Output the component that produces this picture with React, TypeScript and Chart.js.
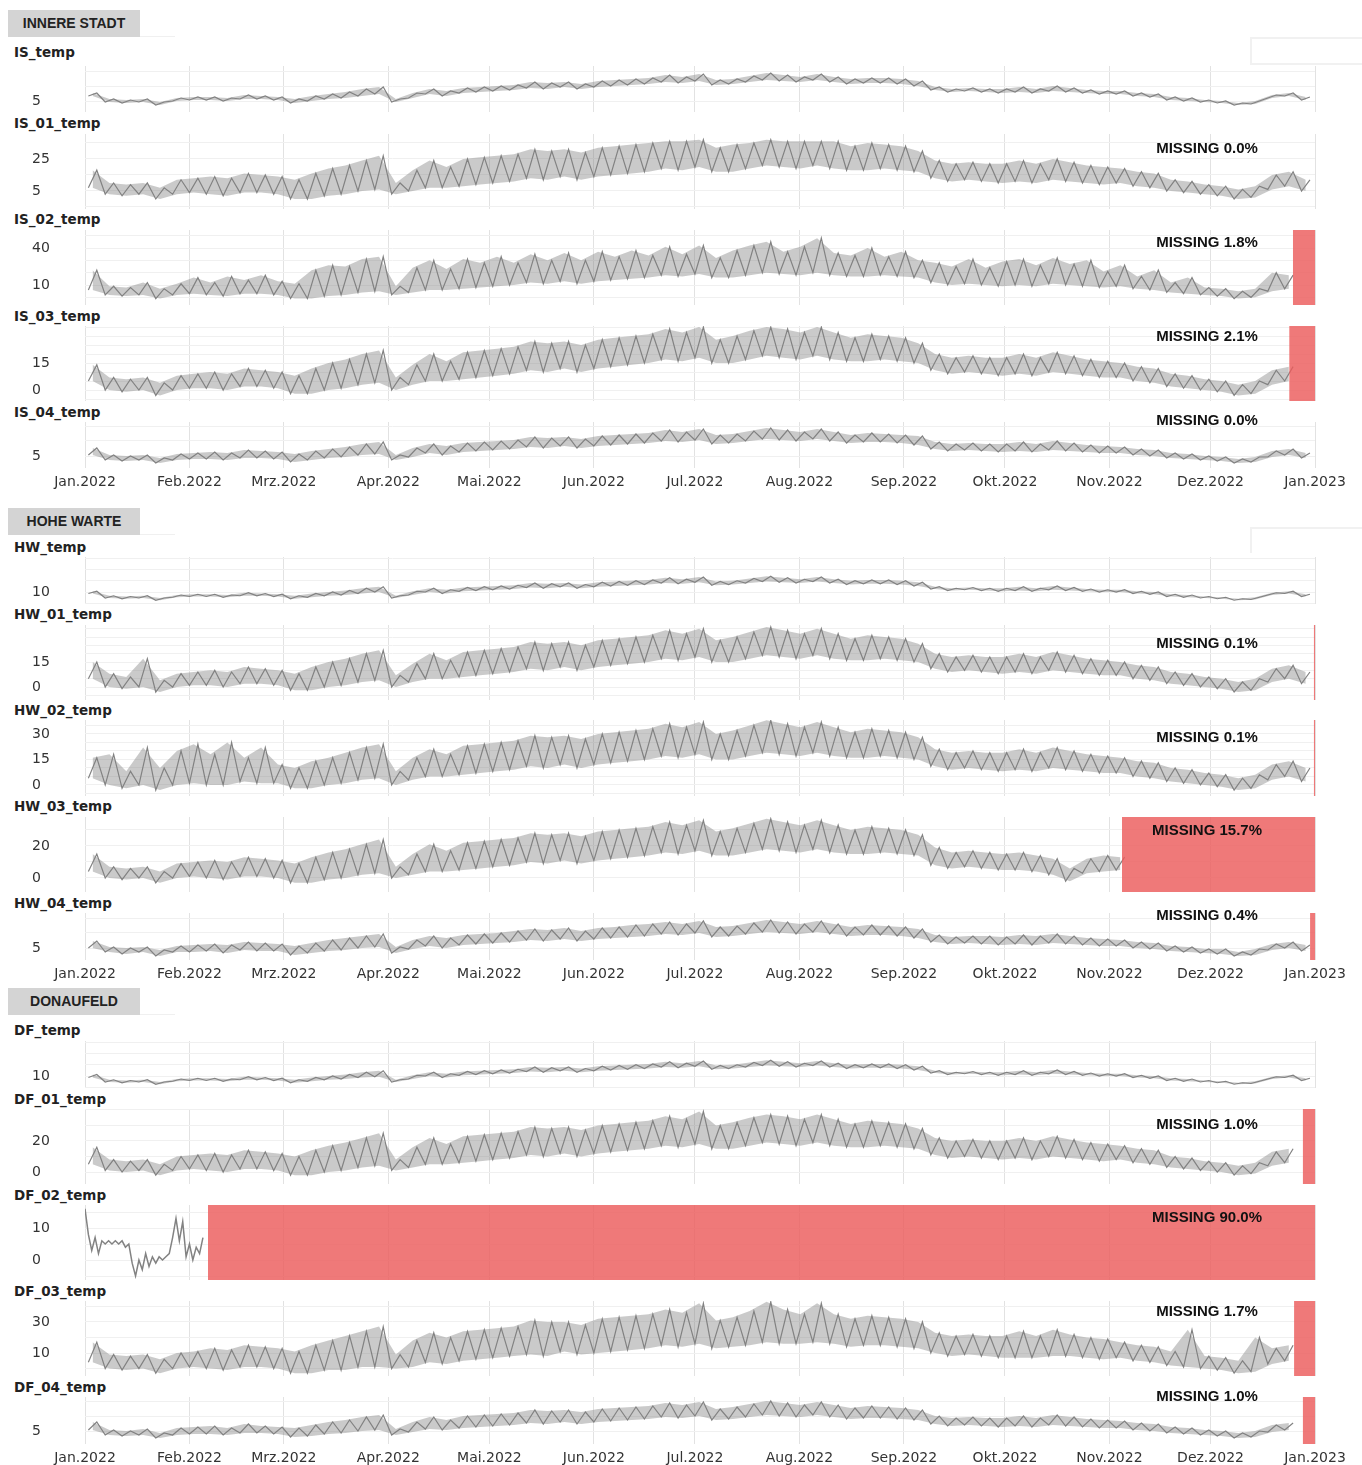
import React, { useEffect, useRef } from 'react';
import { Chart, registerables } from 'chart.js';

Chart.register(...registerables);
Chart.defaults.font.family = "'DejaVu Sans', Verdana, sans-serif";

// ---- time axis -------------------------------------------------------------
const MONTH_START_DAYS = [0, 31, 59, 90, 120, 151, 181, 212, 243, 273, 304, 334, 365];
const MONTH_LABELS = [
  'Jan.2022', 'Feb.2022', 'Mrz.2022', 'Apr.2022', 'Mai.2022', 'Jun.2022', 'Jul.2022',
  'Aug.2022', 'Sep.2022', 'Okt.2022', 'Nov.2022', 'Dez.2022', 'Jan.2023',
];
const YEAR_DAYS = 365;
// each series is stored as five-day readings: the low of the period and its high
const BIN_DAYS = 5;

// ---- INNERE STADT (°C) -----------------------------------------------------
const IS_temp_low = [10,4,3,4,1,5,6,6,5,7,7,6,3,5,7,8,10,12,4,8,12,10,13,14,15,16,18,17,19,17,19,20,21,22,24,23,25,21,22,24,26,25,24,26,24,22,23,23,22,20,16,14,15,14,13,14,13,15,14,13,12,12,10,9,6,5,4,3,1,2,8,10,6];
const IS_temp_high = [13,7,6,7,4,8,9,9,8,11,10,9,7,10,12,14,17,19,7,13,17,15,18,19,20,21,24,23,24,22,25,26,27,28,31,29,32,26,27,30,33,31,29,32,29,27,28,28,27,25,19,17,18,17,17,19,17,20,18,16,15,15,13,12,9,8,6,5,3,5,11,13,9];
const IS_01_low = [7,3,2,3,0,3,4,3,2,4,4,3,0,0,2,3,5,6,3,5,7,7,8,9,10,11,13,12,14,12,14,15,16,17,19,18,20,17,17,19,21,20,19,21,19,18,18,19,18,17,13,11,12,11,10,11,10,12,11,10,9,10,8,7,5,4,3,2,0,1,6,8,5];
const IS_01_high = [18,10,9,10,7,12,13,14,13,16,15,14,12,16,19,21,24,27,10,18,24,20,25,26,27,28,31,30,31,29,32,33,34,35,36,36,37,32,34,35,37,36,36,36,36,33,35,34,33,30,24,22,23,22,22,24,22,25,23,21,20,19,17,16,12,11,9,8,6,8,15,17,12];
const IS_02_low = [6,2,1,2,-1,2,3,2,1,3,3,2,-1,-1,1,2,4,5,2,4,6,6,7,8,9,10,12,11,13,11,13,14,15,16,18,17,19,16,16,18,20,19,18,20,18,17,17,18,17,16,12,10,11,10,9,10,9,11,10,9,8,9,7,6,4,3,2,1,-1,0,5,7];
const IS_02_high = [22,9,8,12,7,11,16,12,17,14,18,13,11,22,26,25,31,33,9,24,30,23,31,28,33,28,35,30,36,30,37,33,38,34,41,35,42,32,38,42,45,37,41,48,36,34,40,33,37,30,28,25,31,24,29,31,26,32,27,30,21,26,17,22,12,16,8,7,5,7,20,18];
const IS_03_low = [5,0,-1,0,-3,0,1,1,0,2,2,1,-2,-2,0,1,3,4,0,3,5,5,6,7,8,9,11,10,12,10,12,13,14,15,17,16,18,15,15,17,19,18,17,19,17,16,16,17,16,15,11,9,10,9,8,9,8,10,9,8,7,7,5,4,2,1,0,-1,-3,-2,3,5];
const IS_03_high = [14,7,6,7,4,8,9,10,9,12,11,10,8,12,15,17,20,22,7,14,20,16,21,22,23,24,27,26,27,25,28,29,30,31,34,32,35,28,30,33,35,34,32,35,32,29,31,30,29,26,20,18,19,18,18,20,18,21,19,17,16,15,13,12,9,8,6,5,3,5,11,13];
const IS_04_low = [6,1,0,1,-2,1,2,2,1,3,3,2,-1,1,3,4,6,7,1,4,8,6,9,10,11,12,14,13,15,13,15,16,17,18,20,19,21,17,18,20,22,21,20,22,20,18,19,19,18,16,12,10,11,10,9,10,9,11,10,9,8,8,6,5,3,2,1,0,-2,-1,4,6,3];
const IS_04_high = [13,6,5,6,3,7,8,9,8,11,10,9,7,10,12,14,17,19,6,13,17,15,18,19,20,21,24,23,24,22,25,26,27,28,31,29,32,26,27,30,33,31,29,32,29,26,28,27,26,25,19,17,18,17,17,19,17,20,18,16,15,14,12,11,8,7,5,4,2,4,10,12,8];
const IS_MISSING_PCT = [null, 0.0, 1.8, 2.1, 0.0];

// ---- HOHE WARTE (°C) -------------------------------------------------------
const HW_temp_low = [8,2,1,2,-1,3,4,4,3,5,5,4,1,3,5,6,8,10,2,6,10,8,11,12,13,14,16,15,17,15,17,18,19,20,22,21,23,19,20,22,24,23,22,24,22,20,21,21,20,18,14,12,13,12,11,12,11,13,12,11,10,10,8,7,4,3,2,1,-1,0,6,8,4];
const HW_temp_high = [11,5,4,5,2,6,7,7,6,9,8,7,5,8,10,12,15,17,5,11,15,13,16,17,18,19,22,21,22,20,23,24,25,26,29,27,30,24,25,28,31,29,27,30,27,25,26,26,25,23,17,15,16,15,15,17,15,18,16,14,13,13,11,10,7,6,4,3,1,3,9,11,7];
const HW_01_low = [5,0,-1,0,-3,0,1,1,0,2,2,1,-2,-2,0,1,3,4,0,3,5,5,6,7,8,9,11,10,12,10,12,13,14,15,17,16,18,15,15,17,19,18,17,19,17,16,16,17,16,15,11,9,10,9,8,9,8,10,9,8,7,7,5,4,2,1,0,-1,-3,-2,3,5,2];
const HW_01_high = [15,8,6,17,4,8,9,10,9,12,11,10,8,12,15,17,20,22,7,14,20,16,21,22,23,24,27,26,27,25,28,29,30,31,34,32,35,28,30,33,36,34,32,35,32,29,31,30,29,26,20,18,19,18,18,20,18,21,19,17,16,15,13,12,9,8,6,5,3,5,11,13,9];
const HW_02_low = [4,0,-2,0,-3,0,1,0,0,2,1,1,-2,-2,0,1,3,4,0,3,5,5,6,7,8,9,11,10,12,10,12,13,14,15,17,16,18,15,15,17,19,18,17,19,17,16,16,17,16,15,11,9,10,9,8,9,8,10,9,8,7,7,5,4,2,1,0,-1,-3,-2,3,5,2];
const HW_02_high = [16,18,8,22,10,20,24,18,25,16,22,12,10,14,16,19,22,24,8,16,21,18,23,24,25,26,29,28,29,27,30,31,32,33,36,34,37,30,32,35,38,36,34,37,34,31,33,32,31,28,21,19,20,19,19,21,19,22,20,18,17,16,14,13,10,9,7,6,4,6,12,14,10];
const HW_03_low = [4,0,-1,0,-3,0,1,0,-1,1,1,0,-3,-3,-1,0,2,3,0,2,4,4,5,6,7,8,10,9,11,9,11,12,13,14,16,15,17,14,14,16,18,17,16,18,16,15,15,16,15,14,8,6,7,6,5,5,4,2,-2,3,4,5];
const HW_03_high = [15,7,6,7,4,9,10,11,10,13,12,11,9,13,16,18,21,24,7,15,21,17,22,23,24,25,28,27,28,26,29,30,31,32,35,33,36,29,31,34,37,35,33,36,33,30,32,31,30,27,19,16,17,16,15,16,14,12,6,12,14,13];
const HW_04_low = [5,1,-1,1,-3,1,1,2,0,3,2,2,-2,0,2,3,5,6,0,4,7,5,8,9,10,11,13,12,14,12,14,15,16,17,19,18,20,16,17,19,21,20,19,21,19,17,18,18,17,15,11,9,10,9,8,9,8,10,9,8,7,7,5,4,2,1,0,-1,-3,-2,3,5,2];
const HW_04_high = [12,6,5,6,3,7,8,9,8,11,10,9,7,10,13,15,17,19,6,13,17,15,18,19,20,22,24,23,25,22,25,26,28,29,31,29,32,26,27,30,33,31,29,32,29,26,28,27,26,24,18,16,17,17,16,18,17,19,17,15,14,13,11,10,7,6,4,4,1,4,9,11,8];
const HW_MISSING_PCT = [null, 0.1, 0.1, 15.7, 0.4];

// ---- DONAUFELD (°C) --------------------------------------------------------
const DF_temp_low = [8,2,1,2,-1,3,4,4,3,5,5,4,1,3,5,6,8,9,2,6,10,8,11,12,13,14,16,15,17,15,17,18,19,20,22,21,23,19,20,22,24,23,22,24,22,20,21,21,20,18,14,12,13,12,11,12,11,13,12,11,10,10,8,7,4,3,2,1,-1,0,6,8,4];
const DF_temp_high = [12,5,4,5,2,6,7,7,6,9,8,7,5,8,10,12,15,17,5,11,15,13,16,17,18,19,22,21,22,20,23,24,25,26,29,27,30,24,25,28,31,29,27,30,27,25,26,26,25,23,17,15,16,15,15,17,15,18,16,14,13,13,11,10,7,6,4,3,1,3,9,11,7];
const DF_01_low = [5,1,0,1,-2,1,2,1,0,2,2,1,-2,-2,0,1,3,4,1,3,5,5,6,7,8,9,11,10,12,10,12,13,14,15,17,16,18,15,15,17,19,18,17,19,17,16,16,17,16,15,11,9,10,9,8,9,8,10,9,8,7,8,6,5,3,2,1,0,-2,-1,4,6];
const DF_01_high = [16,8,7,8,5,10,11,12,11,14,13,12,10,14,17,19,22,25,8,16,22,18,23,24,25,26,29,28,29,27,30,31,32,33,36,34,39,30,32,35,37,36,34,37,34,31,33,32,31,28,22,20,21,20,20,22,20,23,21,19,18,17,15,14,10,9,7,6,4,6,13,15];
// DF_02 only reported for the first weeks of the year, one reading per day
const DF_02_daily = [16,8,3,7,2,6,5,6,5,6,5,6,4,5,-1,-5,0,-3,2,-2,1,-1,1,0,1,2,7,13,6,12,1,5,0,4,2,7];
const DF_03_low = [4,0,-1,0,-3,0,1,0,-1,1,1,0,-3,-3,-1,-1,1,1,0,1,4,3,5,6,7,8,9,8,11,9,10,11,12,13,15,14,16,13,14,15,17,16,16,17,16,14,15,15,14,13,10,8,9,8,7,7,7,8,8,7,6,7,5,4,2,1,0,-1,-3,-2,3,5];
const DF_03_high = [17,9,8,9,6,10,11,13,12,15,14,13,11,15,18,21,24,27,9,18,23,20,24,25,26,27,31,30,30,28,32,33,34,35,38,36,42,31,33,37,43,38,35,42,35,32,34,33,32,30,23,21,22,21,21,24,21,25,22,20,19,17,15,14,11,25,8,7,5,20,13,15];
const DF_04_low = [6,1,0,1,-2,1,2,2,1,3,3,2,-1,0,2,3,5,6,1,4,7,6,8,9,10,11,13,12,14,12,14,15,16,17,19,18,20,16,17,19,21,20,19,21,19,17,18,18,17,16,12,10,11,10,9,10,9,11,10,9,8,8,6,5,3,2,1,0,-2,-1,4,6];
const DF_04_high = [14,6,5,7,3,8,9,10,8,12,10,9,8,11,14,16,19,21,7,14,19,16,20,21,22,23,26,25,26,24,27,28,29,30,33,31,34,27,29,32,35,33,31,34,31,28,30,29,28,26,20,18,19,18,18,20,18,21,19,17,16,15,13,12,9,8,6,5,3,5,11,13];
const DF_MISSING_PCT = [null, 1.0, 90.0, 1.7, 1.0];

// ---- layout ---------------------------------------------------------------
const GROUPS = [
  { name: 'INNERE STADT', top: 10 },
  { name: 'HOHE WARTE', top: 508 },
  { name: 'DONAUFELD', top: 988 },
];

type Panel = {
  id: string;
  top: number;
  height: number;
  yMin: number;
  yMax: number;
  step: number;
  labels: number[];
  low?: number[];
  high?: number[];
  daily?: number[];
  missing: number | null;
  titleY: number;
  missingY?: number;
  axis?: boolean;
};

const PANELS: Panel[] = [
  { id: 'IS_temp', top: 66, height: 46, yMin: -6, yMax: 40, step: 15, labels: [5], low: IS_temp_low, high: IS_temp_high, missing: IS_MISSING_PCT[0], titleY: 52 },
  { id: 'IS_01_temp', top: 134, height: 75, yMin: -6.25, yMax: 40.6, step: 10, labels: [5, 25], low: IS_01_low, high: IS_01_high, missing: IS_MISSING_PCT[1], titleY: 123, missingY: 147 },
  { id: 'IS_02_temp', top: 230, height: 75, yMin: -6.2, yMax: 54.6, step: 10, labels: [10, 40], low: IS_02_low, high: IS_02_high, missing: IS_MISSING_PCT[2], titleY: 219, missingY: 241 },
  { id: 'IS_03_temp', top: 326, height: 75, yMin: -6.1, yMax: 35.6, step: 5, labels: [0, 15], low: IS_03_low, high: IS_03_high, missing: IS_MISSING_PCT[3], titleY: 316, missingY: 335 },
  { id: 'IS_04_temp', top: 422, height: 46, yMin: -7, yMax: 39, step: 15, labels: [5], low: IS_04_low, high: IS_04_high, missing: IS_MISSING_PCT[4], titleY: 412, missingY: 419, axis: true },

  { id: 'HW_temp', top: 557, height: 47, yMin: -6, yMax: 56.7, step: 15, labels: [10], low: HW_temp_low, high: HW_temp_high, missing: HW_MISSING_PCT[0], titleY: 547 },
  { id: 'HW_01_temp', top: 625, height: 75, yMin: -7.8, yMax: 37.2, step: 5, labels: [0, 15], low: HW_01_low, high: HW_01_high, missing: HW_MISSING_PCT[1], titleY: 614, missingY: 642 },
  { id: 'HW_02_temp', top: 720, height: 76, yMin: -6.5, yMax: 38.2, step: 5, labels: [0, 15, 30], low: HW_02_low, high: HW_02_high, missing: HW_MISSING_PCT[2], titleY: 710, missingY: 736 },
  { id: 'HW_03_temp', top: 817, height: 75, yMin: -8.75, yMax: 38.1, step: 10, labels: [0, 20], low: HW_03_low, high: HW_03_high, missing: HW_MISSING_PCT[3], titleY: 806, missingY: 829 },
  { id: 'HW_04_temp', top: 913, height: 47, yMin: -7, yMax: 40, step: 15, labels: [5], low: HW_04_low, high: HW_04_high, missing: HW_MISSING_PCT[4], titleY: 903, missingY: 914, axis: true },

  { id: 'DF_temp', top: 1041, height: 47, yMin: -6, yMax: 56.7, step: 15, labels: [10], low: DF_temp_low, high: DF_temp_high, missing: DF_MISSING_PCT[0], titleY: 1030 },
  { id: 'DF_01_temp', top: 1109, height: 75, yMin: -7.7, yMax: 40.6, step: 10, labels: [0, 20], low: DF_01_low, high: DF_01_high, missing: DF_MISSING_PCT[1], titleY: 1099, missingY: 1123 },
  { id: 'DF_02_temp', top: 1205, height: 75, yMin: -6.25, yMax: 17.2, step: 5, labels: [0, 10], daily: DF_02_daily, missing: DF_MISSING_PCT[2], titleY: 1195, missingY: 1216 },
  { id: 'DF_03_temp', top: 1301, height: 75, yMin: -4.8, yMax: 43.5, step: 10, labels: [10, 30], low: DF_03_low, high: DF_03_high, missing: DF_MISSING_PCT[3], titleY: 1291, missingY: 1310 },
  { id: 'DF_04_temp', top: 1397, height: 47, yMin: -8, yMax: 39, step: 15, labels: [5], low: DF_04_low, high: DF_04_high, missing: DF_MISSING_PCT[4], titleY: 1387, missingY: 1395, axis: true },
];

const CANVAS_LEFT = 32;
const CANVAS_WIDTH = 1330;
const Y_AXIS_WIDTH = 53;
const RIGHT_PAD = 47;
const X_AXIS_HEIGHT = 26;

const LINE_COLOR = '#828282';
const BAND_FILL = 'rgba(128,128,128,0.42)';
const MISSING_FILL = 'rgba(236,92,92,0.82)';

function PanelChart({ p }: { p: Panel }) {
  const ref = useRef<HTMLCanvasElement>(null);

  useEffect(() => {
    if (!ref.current) return;
    const datasets: any[] = [];

    if (p.missing != null && p.missing > 0) {
      const start = YEAR_DAYS * (1 - p.missing / 100);
      datasets.push({
        data: [{ x: start, y: p.yMax }, { x: YEAR_DAYS, y: p.yMax }],
        borderWidth: 0,
        borderColor: 'rgba(0,0,0,0)',
        backgroundColor: MISSING_FILL,
        fill: { value: p.yMin },
        pointRadius: 0,
        order: 0,
      });
    }

    if (p.daily) {
      datasets.push({
        data: p.daily.map((v, d) => ({ x: d, y: v })),
        borderColor: LINE_COLOR,
        borderWidth: 1.5,
        pointRadius: 0,
        fill: false,
        order: 1,
      });
    } else if (p.low && p.high) {
      const n = Math.min(p.low.length, p.high.length);
      const zig: { x: number; y: number }[] = [];
      const hi: { x: number; y: number }[] = [];
      const lo: { x: number; y: number }[] = [];
      for (let k = 0; k < n; k++) {
        const d0 = k * BIN_DAYS;
        zig.push({ x: d0 + 1, y: p.low[k] });
        zig.push({ x: d0 + 3.5, y: p.high[k] });
        hi.push({ x: d0 + 2.25, y: p.high[k] });
        lo.push({ x: d0 + 2.25, y: p.low[k] });
      }
      datasets.push({
        data: zig,
        borderColor: LINE_COLOR,
        borderWidth: 1.2,
        pointRadius: 0,
        fill: false,
        order: 1,
      });
      datasets.push({
        data: hi,
        borderWidth: 0,
        borderColor: 'rgba(0,0,0,0)',
        backgroundColor: BAND_FILL,
        pointRadius: 0,
        fill: '+1',
        order: 2,
      });
      datasets.push({
        data: lo,
        borderWidth: 0,
        borderColor: 'rgba(0,0,0,0)',
        pointRadius: 0,
        fill: false,
        order: 3,
      });
    }

    const anchor = p.labels[0];
    const chart = new Chart(ref.current, {
      type: 'line',
      data: { datasets },
      options: {
        responsive: false,
        animation: false,
        devicePixelRatio: 1,
        layout: { padding: { left: 0, right: RIGHT_PAD, top: 0, bottom: 0 }, autoPadding: false },
        plugins: { legend: { display: false }, tooltip: { enabled: false } },
        elements: { line: { tension: 0 }, point: { radius: 0 } },
        scales: {
          x: {
            type: 'linear',
            min: 0,
            max: YEAR_DAYS,
            afterBuildTicks: (s: any) => {
              s.ticks = MONTH_START_DAYS.map((v) => ({ value: v }));
            },
            afterFit: (s: any) => {
              s.height = p.axis ? X_AXIS_HEIGHT : 0;
              s.paddingLeft = 0;
              s.paddingRight = 0;
            },
            ticks: {
              display: !!p.axis,
              autoSkip: false,
              maxRotation: 0,
              minRotation: 0,
              padding: 6,
              color: '#333',
              font: { size: 14 },
              callback: (_v: any, i: number) => MONTH_LABELS[i],
            },
            grid: { color: '#e2e2e2', drawTicks: false, lineWidth: 1 },
            border: { display: false },
          },
          y: {
            type: 'linear',
            min: p.yMin,
            max: p.yMax,
            afterBuildTicks: (s: any) => {
              const t: { value: number }[] = [];
              let v = anchor - Math.floor((anchor - p.yMin) / p.step) * p.step;
              for (; v <= p.yMax; v += p.step) t.push({ value: v });
              s.ticks = t;
            },
            afterFit: (s: any) => {
              s.width = Y_AXIS_WIDTH;
              s.paddingTop = 0;
              s.paddingBottom = 0;
            },
            ticks: {
              autoSkip: false,
              crossAlign: 'far',
              padding: 0,
              color: '#333',
              font: { size: 14 },
              callback: function (this: any, _v: any, i: number, ticks: any[]) {
                const val = ticks[i].value;
                return p.labels.indexOf(val) >= 0 ? String(val) : '';
              },
            },
            grid: { color: '#f0f0f0', drawTicks: false },
            border: { display: false },
          },
        },
      } as any,
    });
    return () => chart.destroy();
  }, [p]);

  const h = p.height + (p.axis ? X_AXIS_HEIGHT : 0);
  const missingText =
    p.missing != null && p.missingY != null ? `MISSING ${p.missing.toFixed(1)}%` : null;

  return (
    <>
      <div
        style={{
          position: 'absolute',
          left: 14,
          top: p.titleY,
          transform: 'translateY(-50%)',
          font: "bold 13.5px 'DejaVu Sans', Verdana, sans-serif",
          color: '#222',
          whiteSpace: 'nowrap',
          lineHeight: '16px',
        }}
      >
        {p.id}
      </div>
      <canvas
        ref={ref}
        width={CANVAS_WIDTH}
        height={h}
        style={{ position: 'absolute', left: CANVAS_LEFT, top: p.top, width: CANVAS_WIDTH, height: h }}
      />
      {missingText && (
        <div
          style={{
            position: 'absolute',
            left: 1207,
            top: p.missingY,
            transform: 'translate(-50%, -50%)',
            font: "bold 15px 'Liberation Sans', Arial, sans-serif",
            color: '#111',
            whiteSpace: 'nowrap',
            lineHeight: '17px',
          }}
        >
          {missingText}
        </div>
      )}
    </>
  );
}

function GroupHeader({ name, top }: { name: string; top: number }) {
  return (
    <>
      <div
        style={{
          position: 'absolute',
          left: 8,
          top,
          width: 132,
          height: 27,
          background: '#d4d4d4',
          color: '#222',
          font: "bold 14px 'Liberation Sans', Arial, sans-serif",
          lineHeight: '27px',
          textAlign: 'center',
          whiteSpace: 'nowrap',
        }}
      >
        {name}
      </div>
      <div
        style={{ position: 'absolute', left: 140, top: top + 26, width: 35, height: 1, background: '#f0f0f0' }}
      />
    </>
  );
}

export default function App() {
  return (
    <div
      style={{
        position: 'absolute',
        left: 0,
        top: 0,
        width: 1362,
        height: 1465,
        background: '#fff',
        overflow: 'hidden',
      }}
    >
      {GROUPS.map((g) => (
        <GroupHeader key={g.name} name={g.name} top={g.top} />
      ))}
      <div
        style={{
          position: 'absolute',
          left: 1250,
          top: 37,
          width: 120,
          height: 24,
          borderTop: '2px solid #f1f1f1',
          borderLeft: '2px solid #f1f1f1',
          borderBottom: '2px solid #f1f1f1',
        }}
      />
      <div
        style={{
          position: 'absolute',
          left: 1250,
          top: 527,
          width: 120,
          height: 24,
          borderTop: '2px solid #f1f1f1',
          borderLeft: '2px solid #f1f1f1',
        }}
      />
      {PANELS.map((p) => (
        <PanelChart key={p.id} p={p} />
      ))}
    </div>
  );
}
